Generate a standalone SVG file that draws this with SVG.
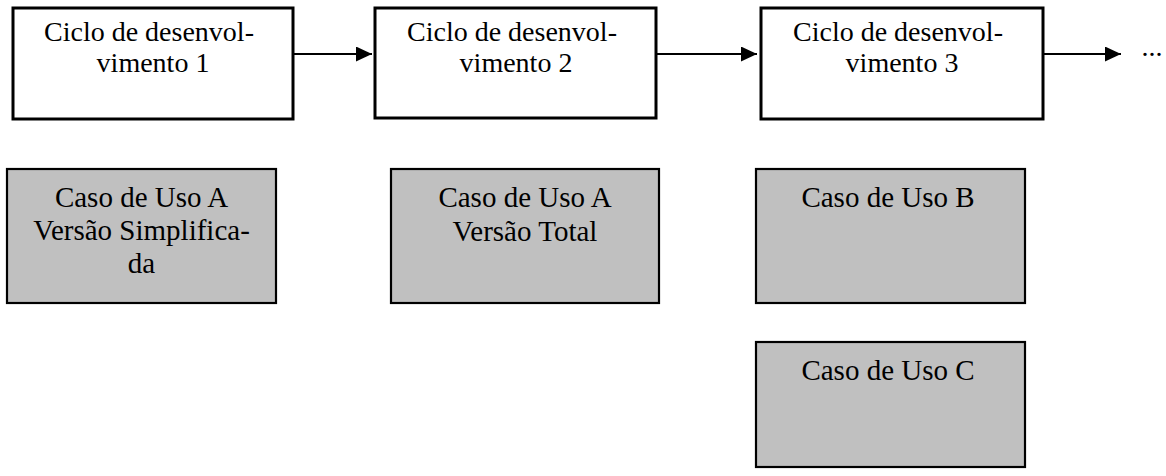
<svg xmlns="http://www.w3.org/2000/svg" width="1166" height="476" viewBox="0 0 1166 476">
<style>
.cyc{fill:#ffffff;stroke:#000000;stroke-width:3}
.uc{fill:#c0c0c0;stroke:#000000;stroke-width:2.2}
text{font-family:"Liberation Serif","Times New Roman",serif;font-size:28px;fill:#000000;text-anchor:middle}
.uc-t{font-size:29px}
.conn{stroke:#000000;stroke-width:2;fill:none}
</style>
<defs>
<marker id="ah" markerWidth="16" markerHeight="15" refX="16" refY="7.5" orient="auto" markerUnits="userSpaceOnUse" viewBox="0 0 16 15">
<path d="M0,0 L16,7.5 L0,15 Z" fill="#000000"/>
</marker>
</defs>
<g id="ciclo1">
<rect class="cyc" x="13" y="8" width="280" height="111"/>
<text x="149" y="41">Ciclo de desenvol-</text>
<text x="153" y="72">vimento 1</text>
</g>
<g id="ciclo2">
<rect class="cyc" x="375" y="8" width="281" height="110"/>
<text x="512" y="41">Ciclo de desenvol-</text>
<text x="516" y="72">vimento 2</text>
</g>
<g id="ciclo3">
<rect class="cyc" x="761" y="8" width="282" height="111"/>
<text x="898" y="41">Ciclo de desenvol-</text>
<text x="902" y="72">vimento 3</text>
</g>
<g id="ellipsis">
<text x="1152" y="56">...</text>
</g>
<g id="casoA1">
<rect class="uc" x="7" y="169" width="269" height="134"/>
<text class="uc-t" x="141.5" y="207">Caso de Uso A</text>
<text class="uc-t" x="141.5" y="240">Versão Simplifica-</text>
<text class="uc-t" x="141.5" y="273">da</text>
</g>
<g id="casoA2">
<rect class="uc" x="391" y="169" width="268" height="134"/>
<text class="uc-t" x="525" y="207">Caso de Uso A</text>
<text class="uc-t" x="525" y="241">Versão Total</text>
</g>
<g id="casoB">
<rect class="uc" x="756" y="169" width="269" height="134"/>
<text class="uc-t" x="888" y="207">Caso de Uso B</text>
</g>
<g id="casoC">
<rect class="uc" x="756" y="342" width="269" height="125"/>
<text class="uc-t" x="888" y="380">Caso de Uso C</text>
</g>
<g id="connectors">
<line class="conn" x1="294" y1="54" x2="372" y2="54" marker-end="url(#ah)"/>
<line class="conn" x1="657" y1="54" x2="757" y2="54" marker-end="url(#ah)"/>
<line class="conn" x1="1044" y1="54" x2="1121" y2="54" marker-end="url(#ah)"/>
</g>
</svg>
